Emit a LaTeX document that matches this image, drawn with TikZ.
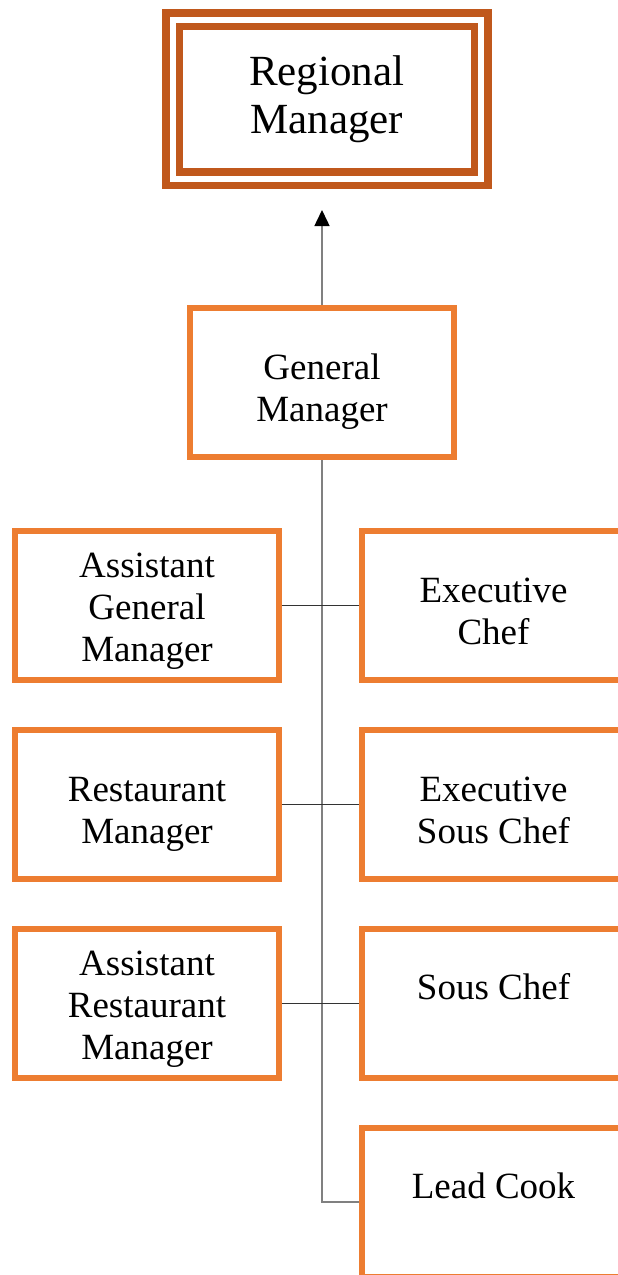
\documentclass[tikz,border=0pt]{standalone}
\usepackage{fontspec}
\setmainfont{Liberation Serif}
\usepackage{xcolor}
\usetikzlibrary{arrows.meta}
\definecolor{boxorange}{HTML}{ED7D31}
\definecolor{topbrown}{HTML}{C0581C}
\definecolor{linkgray}{HTML}{808080}

\begin{document}
\begin{tikzpicture}[x=1pt, y=-1pt,
        % Define styles for the boxes and the lines
        unit/.style={draw=boxorange, line width=6pt, minimum width=264pt, minimum height=149pt,
            inner sep=0pt, align=center, font=\fontsize{37}{42}\selectfont,
            text height=78pt, text depth=0pt},
        topunit/.style={draw=topbrown, line width=7.5pt, double=white, double distance=6pt,
            minimum width=308.5pt, minimum height=159pt, inner sep=0pt, align=center,
            font=\fontsize{43}{48}\selectfont},
        threeline/.style={text height=112pt},
        oneline/.style={text height=25pt, text depth=33pt},
        trunk/.style={draw=linkgray, line width=1.5pt},
        branch/.style={draw=black!80, line width=1.3pt}]

        % 0. Fix the page size
        \useasboundingbox (0,0) rectangle (618,1275);

        % 1. Top of the chart
        \node[topunit] (regional) at (326.75,99) {Regional\\Manager};
        \node[unit] (general) at (322,382.5) {General\\Manager};
        \coordinate (uptip) at (322,210);

        % 2. Left column
        \node[unit, threeline] (asstgm) at (147,605.5) {Assistant\\General\\Manager};
        \node[unit] (restmgr) at (147,804.5) {Restaurant\\Manager};
        \node[unit, threeline] (asstrm) at (147,1003.5) {Assistant\\Restaurant\\Manager};

        % 3. Right column (cut off by the page edge)
        \node[unit] (execchef) at (493.5,605.5) {Executive\\Chef};
        \node[unit] (execsous) at (493.5,804.5) {Executive\\Sous Chef};
        \node[unit, oneline] (souschef) at (493.5,1003.5) {Sous Chef};
        \node[unit, oneline] (leadcook) at (493.5,1202) {Lead Cook};

        % 4. Arrow up to the regional manager
        \draw[trunk, -{Triangle[length=16pt, width=15pt, color=black]}] (general.north) -- (uptip);

        % 5. Trunk line down to the lead cook
        \draw[trunk] (general.south) |- (leadcook.west);

        % 6. Cross lines between the two columns
        \draw[branch] (asstgm.east) -- (execchef.west);
        \draw[branch] (restmgr.east) -- (execsous.west);
        \draw[branch] (asstrm.east) -- (souschef.west);

    \end{tikzpicture}
\end{document}
